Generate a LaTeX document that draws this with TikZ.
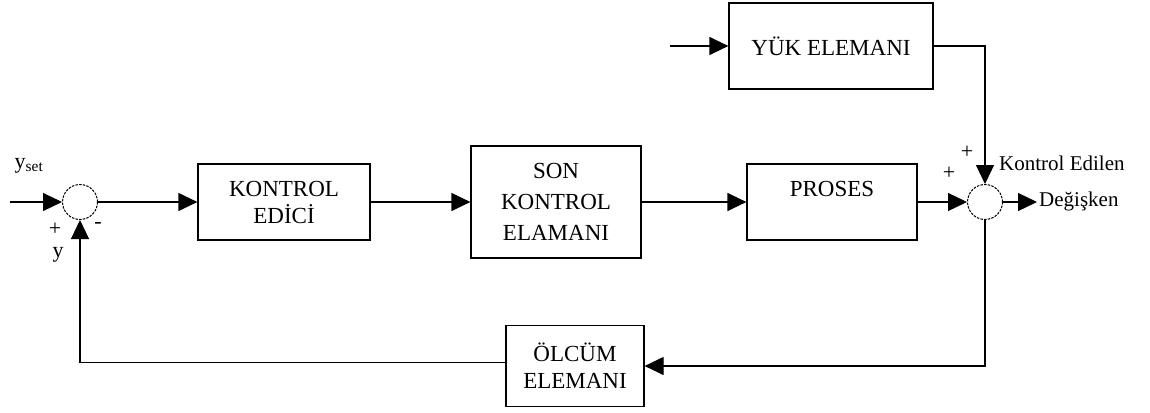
\documentclass[tikz,border=0pt]{standalone}
\usepackage{fontspec}
\setmainfont{Liberation Serif}
\usetikzlibrary{arrows.meta}

\begin{document}
\begin{tikzpicture}[x=1pt, y=-1pt,
    blok/.style={draw, line width=1.2pt, align=center, inner sep=0pt, font=\fontsize{23}{27}\selectfont},
    toplam/.style={draw, circle, line width=1pt, dash pattern=on 2.5pt off 1.2pt, minimum size=35pt, inner sep=0pt},
    ok/.style={-{Triangle[length=19pt, width=18pt]}, line width=1.2pt},
    etiket/.style={inner sep=0pt, font=\fontsize{22}{26}\selectfont}]
    \useasboundingbox (0,0) rectangle (1150,412);
    % bloklar ve toplama noktalari
    \node[toplam] (t1) at (80,202) {};
    \node[blok, minimum width=172pt, minimum height=76pt] (kontrol) at (284,202) {KONTROL\\EDİCİ};
    \node[blok, minimum width=170pt, minimum height=112pt, font=\fontsize{23}{31}\selectfont] (son) at (556,202) {SON\\KONTROL\\ELAMANI};
    \node[blok, minimum width=170pt, minimum height=76pt] (proses) at (832,202) {PROSES\\\mbox{}};
    \node[toplam] (t2) at (985,202) {};
    \node[blok, minimum width=204pt, minimum height=86pt] (yuk) at (831,46) {YÜK ELEMANI};
    \node[blok, minimum width=138pt, minimum height=81pt] (olcum) at (575,366) {ÖLCÜM\\ELEMANI};
    \coordinate (giris) at (10,202);
    \coordinate (yukgiris) at (670,46);
    \coordinate (cikis) at (1037,202);
    % ileri yol
    \draw[ok] (giris) -- (t1);
    \draw[ok] (t1) -- (kontrol);
    \draw[ok] (kontrol) -- (son);
    \draw[ok] (son) -- (proses);
    \draw[ok] (proses) -- (t2);
    \draw[ok] (t2) -- (cikis);
    \draw[ok] (yukgiris) -- (yuk);
    \draw[ok] (yuk.east) -| (t2.north);
    % geri besleme
    \draw[ok] (t2.south) |- (olcum.east);
    \draw[ok] ([yshift=3.5pt]olcum.west) -| (t1.south);
    % isaretler
    \node[etiket] (yset) at (29,166) {y\textsubscript{set}};
    \node[etiket] (yolc) at (58,255) {y};
    \node[etiket] (arti1) at (55,229) {+};
    \node[etiket] (eksi1) at (98,225) {-};
    \node[etiket] (arti2) at (967,152) {+};
    \node[etiket] (arti3) at (949,173) {+};
    \node[etiket, anchor=west, font=\fontsize{21}{25}\selectfont] (kedilen) at (999,163) {Kontrol Edilen};
    \node[etiket, anchor=west, font=\fontsize{21}{25}\selectfont] (degisken) at (1039,201) {Değişken};
\end{tikzpicture}
\end{document}
